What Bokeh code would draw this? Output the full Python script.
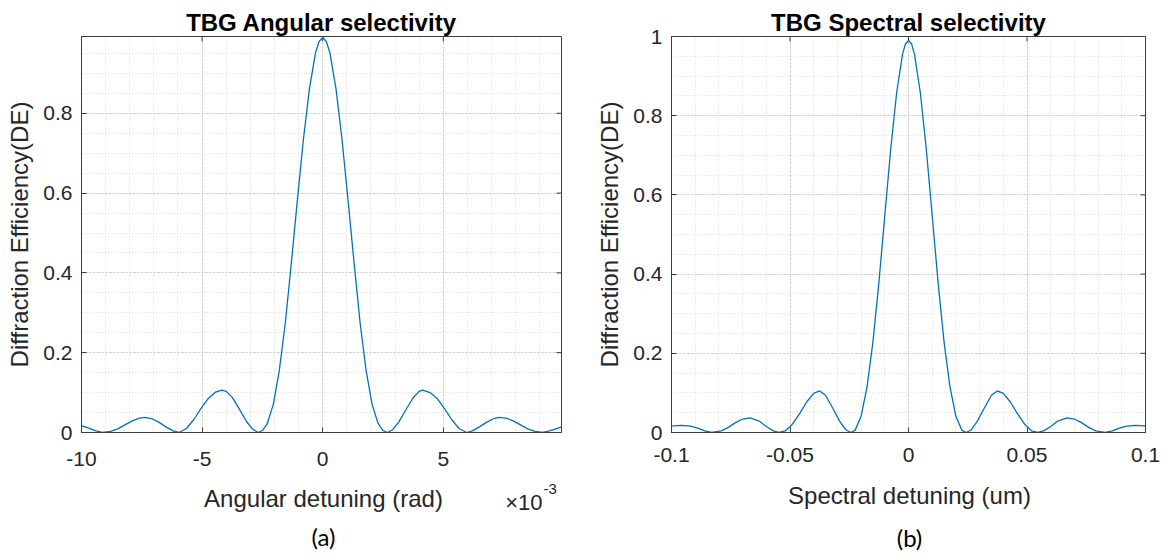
import math
from bokeh.plotting import figure
from bokeh.layouts import row, column
from bokeh.models import FixedTicker, CustomJSTickFormatter, Range1d, Label
from bokeh.embed import file_html
from bokeh.resources import INLINE

# ---------------- data ----------------
# (a) angular detuning, in units of 1e-3 rad
angular_detuning = [
    -10, -9.7, -9.4, -9.13, -8.8, -8.5, -8.2, -7.9, -7.6, -7.38, -7.1, -6.8, -6.5, -6.2,
    -5.96, -5.65, -5.35, -5.05, -4.75, -4.45, -4.18, -4.0, -3.75, -3.45, -3.15, -2.9,
    -2.68, -2.5, -2.3, -2.05, -1.8, -1.55, -1.3, -1.05, -0.8, -0.55, -0.3, -0.15, 0,
    0.15, 0.3, 0.55, 0.8, 1.05, 1.3, 1.55, 1.8, 2.05, 2.3, 2.5, 2.69, 2.9, 3.15, 3.45,
    3.75, 4.0, 4.15, 4.45, 4.75, 5.05, 5.35, 5.65, 5.97, 6.2, 6.5, 6.8, 7.1, 7.3, 7.6,
    7.9, 8.2, 8.5, 8.8, 9.13, 9.4, 9.7, 9.9,
]
angular_de = [
    0.017, 0.011, 0.004, 0.0, 0.003, 0.009, 0.019, 0.029, 0.036, 0.038, 0.035, 0.026, 0.014, 0.004,
    0.0, 0.010, 0.032, 0.060, 0.085, 0.101, 0.106, 0.103, 0.088, 0.058, 0.027, 0.008,
    0.0, 0.005, 0.022, 0.070, 0.155, 0.275, 0.425, 0.583, 0.735, 0.862, 0.951, 0.980, 0.990,
    0.980, 0.951, 0.862, 0.735, 0.583, 0.425, 0.275, 0.155, 0.070, 0.022, 0.005, 0.0, 0.007, 0.026, 0.057,
    0.087, 0.103, 0.106, 0.100, 0.085, 0.060, 0.032, 0.010, 0.0, 0.004, 0.014, 0.026, 0.035, 0.038, 0.036,
    0.029, 0.019, 0.009, 0.003, 0.0, 0.004, 0.010, 0.014,
]
angular_xticks = [-10, -5, 0, 5]
angular_xminor = [-10, -9, -8, -7, -6, -5, -4, -3, -2, -1, 0, 1, 2, 3, 4, 5, 6, 7, 8, 9]
angular_yticks = [0, 0.2, 0.4, 0.6, 0.8]

# (b) spectral detuning, in um
spectral_detuning = [
    -0.1, -0.098, -0.0957, -0.092, -0.089, -0.086, -0.083, -0.079, -0.076, -0.073, -0.070,
    -0.0668, -0.063, -0.060, -0.057, -0.0546, -0.052, -0.049, -0.046, -0.043, -0.040,
    -0.0375, -0.035, -0.032, -0.029, -0.0265, -0.0243, -0.0225, -0.020, -0.0175, -0.015,
    -0.0125, -0.010, -0.0075, -0.005, -0.0025, -0.0013, 0.0,
    0.0013, 0.0025, 0.005, 0.0075, 0.010, 0.0125, 0.015, 0.0175, 0.020, 0.0225, 0.0243,
    0.0265, 0.029, 0.032, 0.035, 0.0375, 0.040, 0.043, 0.046, 0.049, 0.052, 0.0546,
    0.057, 0.060, 0.063, 0.0668, 0.070, 0.073, 0.076, 0.079, 0.083, 0.086, 0.089,
    0.092, 0.0957, 0.098, 0.1,
]
spectral_de = [
    0.016, 0.0175, 0.018, 0.016, 0.011, 0.004, 0.0, 0.004, 0.013, 0.025, 0.034,
    0.037, 0.029, 0.015, 0.004, 0.0, 0.004, 0.021, 0.047, 0.077, 0.099,
    0.105, 0.094, 0.062, 0.028, 0.007, 0.0, 0.006, 0.041, 0.115, 0.229,
    0.378, 0.548, 0.716, 0.858, 0.956, 0.981, 0.990,
    0.981, 0.956, 0.858, 0.716, 0.548, 0.378, 0.229, 0.115, 0.041, 0.006, 0.0,
    0.007, 0.028, 0.062, 0.094, 0.105, 0.099, 0.077, 0.047, 0.021, 0.004, 0.0,
    0.004, 0.015, 0.029, 0.037, 0.034, 0.025, 0.013, 0.004, 0.0, 0.004, 0.011,
    0.016, 0.018, 0.0175, 0.016,
]
spectral_xticks = [-0.1, -0.05, 0, 0.05, 0.1]
spectral_xminor = [-0.1, -0.09, -0.08, -0.07, -0.06, -0.05, -0.04, -0.03, -0.02, -0.01,
                   0, 0.01, 0.02, 0.03, 0.04, 0.05, 0.06, 0.07, 0.08, 0.09, 0.1]
spectral_yticks = [0, 0.2, 0.4, 0.6, 0.8, 1]
y_minor = [0, 0.05, 0.1, 0.15, 0.2, 0.25, 0.3, 0.35, 0.4, 0.45, 0.5, 0.55, 0.6, 0.65,
           0.7, 0.75, 0.8, 0.85, 0.9, 0.95, 1.0]

FONT = "Liberation Sans"
AX = "#262626"
FRAME = "#3c3c3c"
LINE = "#0072BD"
TOP_H = 476      # height of the plot row
BOT_H = 78       # height of the caption row below it
fmt = CustomJSTickFormatter(code="return String(tick);")


def panel(x, y, xr, yr, xt, xm, yt, title, width, bl, br, bb, xstand):
    p = figure(width=width, height=TOP_H, x_range=Range1d(*xr), y_range=Range1d(*yr),
               output_backend="svg", toolbar_location=None,
               min_border_left=bl, min_border_right=br, min_border_top=36,
               min_border_bottom=bb, background_fill_color="white",
               border_fill_color="white")
    p.title.text = title
    p.title.align = "center"
    p.title.text_font = FONT
    p.title.text_font_size = "24px"
    p.title.text_font_style = "bold"
    p.title.text_color = "black"
    p.title.standoff = 2
    p.outline_line_color = FRAME
    p.outline_line_width = 1

    p.xaxis.ticker = FixedTicker(ticks=xt, minor_ticks=xm)
    p.yaxis.ticker = FixedTicker(ticks=yt, minor_ticks=y_minor)
    p.xaxis.formatter = fmt
    p.yaxis.formatter = fmt
    for ax in (p.xaxis[0], p.yaxis[0]):
        ax.axis_line_color = FRAME
        ax.major_tick_in = 5
        ax.major_tick_out = 0
        ax.minor_tick_in = 0
        ax.minor_tick_out = 0
        ax.major_tick_line_color = FRAME
        ax.major_label_text_font = FONT
        ax.major_label_text_font_size = "21px"
        ax.major_label_text_color = AX
        ax.axis_label_text_font = FONT
        ax.axis_label_text_font_size = "24px"
        ax.axis_label_text_font_style = "normal"
        ax.axis_label_text_color = AX
    p.yaxis.axis_label = "Diffraction Efficiency(DE)"
    p.xaxis.major_label_standoff = xstand
    p.yaxis.major_label_standoff = 9
    p.yaxis.axis_label_standoff = 7

    for g in (p.xgrid[0], p.ygrid[0]):
        g.grid_line_color = "#c9c9c9"
        g.grid_line_dash = "2 2"
        g.grid_line_width = 1
        g.minor_grid_line_color = "#dadada"
        g.minor_grid_line_dash = "1 2"
        g.minor_grid_line_width = 1

    # mirrored inward ticks on the right and top edges (box on): dash markers
    # centred on the edge, the outer half is clipped away by the frame
    p.scatter([xr[1]] * len(yt), yt, marker="dash", size=10,
              line_color=FRAME, line_width=1)
    p.scatter(xt, [yr[1]] * len(xt), marker="dash", size=10, angle=math.pi / 2,
              line_color=FRAME, line_width=1)

    p.line(x, y, line_color=LINE, line_width=1.3)
    return p


def text_strip(width):
    # a bare strip whose frame fills it: 1 data unit = 1 pixel, y measured from its bottom
    q = figure(width=width, height=BOT_H, x_range=Range1d(0, width), y_range=Range1d(0, BOT_H),
               output_backend="svg", toolbar_location=None, min_border=0,
               x_axis_location=None, y_axis_location=None, outline_line_color=None,
               background_fill_color="white", border_fill_color="white")
    q.grid.visible = False
    return q


def txt(q, x, y, s, size, font=FONT, align="center", baseline="alphabetic", color=AX):
    q.add_layout(Label(x=x, y=y, text=s, text_align=align, text_baseline=baseline,
                       text_font=font, text_font_size=size, text_color=color))


p1 = panel(angular_detuning, angular_de, (-10, 9.9), (0, 0.9925),
           angular_xticks, angular_xminor, angular_yticks,
           "TBG Angular selectivity", 580, 81, 19, TOP_H - 433, 19)
p2 = panel(spectral_detuning, spectral_de, (-0.1, 0.1), (0, 1.0),
           spectral_xticks, spectral_xminor, spectral_yticks,
           "TBG Spectral selectivity", 583, 91, 18, TOP_H - 432, 15)

q1 = text_strip(580)
txt(q1, 323, 56, "Angular detuning (rad)", "24px")
txt(q1, 542, 52, "\u00d710", "22px", align="right")
txt(q1, 543, 66, "-3", "15px", align="left")
txt(q1, 323, 18.5, "(a)", "24px", font="Lato", baseline="middle", color="black")

q2 = text_strip(583)
txt(q2, 329, 59, "Spectral detuning (um)", "24px")
txt(q2, 329, 17.5, "(b)", "24px", font="Lato", baseline="middle", color="black")

layout = column(row(p1, p2), row(q1, q2))
open("out.html", "w").write(file_html(layout, INLINE))
